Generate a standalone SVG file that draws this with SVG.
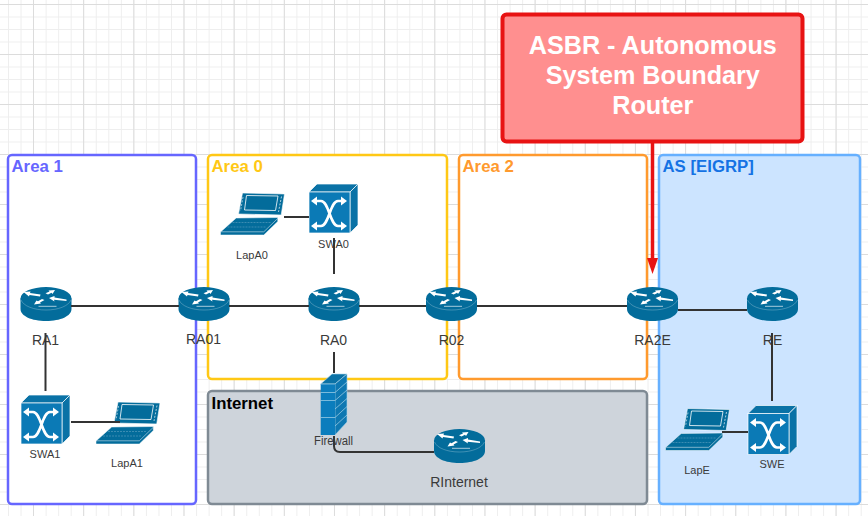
<svg xmlns="http://www.w3.org/2000/svg" width="868" height="516" viewBox="0 0 868 516">
  <style>
    text { font-family: "Liberation Sans", Arial, sans-serif; }
    .area { stroke-width: 2.5; }
    .area-title { font-size: 16.8px; font-weight: bold; }
    .big { font-size: 14px; fill: #3a3a3a; text-anchor: middle; }
    .small { font-size: 11px; fill: #3a3a3a; text-anchor: middle; }
    .wire { fill: none; stroke: #333; stroke-width: 2; }
    .b { fill: #036c9b; }
    .w { fill: #fff; }
  </style>
  <defs>
    <pattern id="minor" width="12.54" height="12.5" patternUnits="userSpaceOnUse" patternTransform="translate(8 4)">
      <path d="M.5 0V12.5M0 .5H12.54" fill="none" stroke="#eeeeee" stroke-width="1"/>
    </pattern>
    <pattern id="major" width="50.16" height="50" patternUnits="userSpaceOnUse" patternTransform="translate(33 4)">
      <path d="M.5 0V50M0 .5H50.16" fill="none" stroke="#dcdcdc" stroke-width="1"/>
    </pattern>
    <symbol id="router" viewBox="0 0 51 34" width="51" height="34" overflow="visible">
      <path class="b" d="M0 11.500V22C0 29 11 34 25.500 34S51 29 51 22V11.500Z"/>
      <ellipse class="b" cx="25.500" cy="11.500" rx="25.500" ry="11.500"/>
      <path d="M0.500 13C3 19 13 23 25.500 23S48 19 50.500 13" fill="none" stroke="#7fb4cd" stroke-width=".5"/>
      <path d="M18 19.300H36" stroke="#cfe3ec" stroke-width=".8"/>
      <polygon class="w" points="3,5 10,4.500 9.500,6 20,7.500 19.500,9.500 9,8 8.500,9.500"/>
      <polygon class="w" points="34.500,3 32,7 31,5.800 27.500,7.500 25,6.200 29,4.500 28,3.400"/>
      <polygon class="w" points="28.500,11 34,9 34,10.500 46,12.500 46,14 33.500,12.800 34,14.500"/>
      <polygon class="w" points="13.500,17.500 16,13.500 17.500,14.200 21.500,12 24,13 19.500,15.500 20.500,16.500"/>
    </symbol>
    <symbol id="switch" viewBox="0 0 49 49" width="49" height="49" overflow="visible">
      <polygon points="0,8 8,0 49,0 41,8" fill="#0a72a6" stroke="#fff" stroke-width=".7"/>
      <polygon points="41,8 49,0 49,41 41,49" fill="#0a72a6" stroke="#fff" stroke-width=".7"/>
      <rect x="0" y="8" width="41" height="41" fill="#0b7ab6" stroke="#fff" stroke-width=".7"/>
      <path d="M7 17H12C20 17 21 42 29 42H33M7 42H12C20 42 21 17 29 17H33" fill="none" stroke="#fff" stroke-width="2.600"/>
      <polygon class="w" points="2,17 8,12.500 8,21.500"/>
      <polygon class="w" points="2,42 8,37.500 8,46.500"/>
      <polygon class="w" points="38,17 32,12.500 32,21.500"/>
      <polygon class="w" points="38,42 32,37.500 32,46.500"/>
    </symbol>
    <symbol id="laptop" viewBox="0 0 64 43" width="64" height="43" overflow="visible">
      <polygon class="b" points="22,0 64,1 60.700,22 18,21" stroke="#fff" stroke-width=".6"/>
      <polygon points="26,2.500 57.500,3 55,17.500 24,17" fill="none" stroke="#fff" stroke-width=".8"/>
      <path d="M61 3.500L58 19" fill="none" stroke="#d5e8f1" stroke-width=".8" stroke-dasharray="2 1.500"/>
      <path d="M22.500 4L20 18" fill="none" stroke="#d5e8f1" stroke-width=".7" stroke-dasharray="2 1.500"/>
      <polygon class="b" points="0,39 15.700,25 57.300,24.500 57.300,28.500 43.300,42 0,42" stroke="#fff" stroke-width=".5"/>
      <path d="M0 38.800H43.300L57.300 25.300" fill="none" stroke="#cfe3ec" stroke-width=".6"/>
      <path d="M12 29.500H50M7 34H46" fill="none" stroke="#5fa3c3" stroke-width=".6" stroke-dasharray="2 1"/>
    </symbol>
    <symbol id="firewall" viewBox="0 0 27 62" width="27" height="62" overflow="visible">
      <polygon points="0.700,11 12,1 27,1 15,11" fill="#0a72a6" stroke="#a9d4ea" stroke-width=".6"/>
      <polygon points="15,11 27,1 27,49 15,62" fill="#0e78b2" stroke="#a9d4ea" stroke-width=".6"/>
      <rect x="0.700" y="11" width="14.300" height="51" fill="#0b7dbd"/>
      <path d="M0.700 11H15M0.700 19.500H15M0.700 27.500H15M0.700 44.500H15M15 19.500L27 9M15 27.500L27 17M15 36L27 25.500M15 44.500L27 33.500M15 53L27 42" fill="none" stroke="#a9d4ea" stroke-width=".7"/>
    </symbol>
  </defs>

  <rect width="868" height="516" fill="#fff"/>
  <rect width="868" height="516" fill="url(#minor)"/>
  <rect width="868" height="516" fill="url(#major)"/>

  <g id="areas">
    <g id="area-1">
      <rect class="area" x="8" y="155" width="188" height="349" rx="4" fill="#fff" stroke="#6666ff"/>
      <text class="area-title" x="11.500" y="172" fill="#6666ff">Area 1</text>
    </g>
    <g id="area-0">
      <rect class="area" x="208" y="155" width="239" height="224" rx="4" fill="#fff" stroke="#ffc815"/>
      <text class="area-title" x="211.500" y="172" fill="#ffc815">Area 0</text>
    </g>
    <g id="area-2">
      <rect class="area" x="459" y="155" width="188" height="224" rx="4" fill="#fff" stroke="#ff9a2e"/>
      <text class="area-title" x="462.500" y="172" fill="#ff9a2e">Area 2</text>
    </g>
    <g id="area-as">
      <rect class="area" x="659" y="155" width="201" height="349" rx="4" fill="#cce4ff" stroke="#66b0ff"/>
      <text class="area-title" x="662.500" y="172" fill="#1472e4">AS [EIGRP]</text>
    </g>
    <g id="area-internet">
      <rect class="area" x="208" y="391" width="439" height="113" rx="4" fill="#ced4db" stroke="#7f8a94"/>
      <text class="area-title" x="211.500" y="409" fill="#000">Internet</text>
    </g>
  </g>

  <g id="node-RA1"><use href="#router" x="20.500" y="287"/><text class="big" x="45.500" y="345">RA1</text></g>
  <g id="node-RA01"><use href="#router" x="178.500" y="287"/><text class="big" x="203.500" y="344">RA01</text></g>
  <g id="node-RA0"><use href="#router" x="308.500" y="287"/><text class="big" x="333.500" y="345">RA0</text></g>
  <g id="node-R02"><use href="#router" x="426" y="287"/><text class="big" x="451.500" y="345">R02</text></g>
  <g id="node-RA2E"><use href="#router" x="627" y="287"/><text class="big" x="652.500" y="345">RA2E</text></g>
  <g id="node-RE"><use href="#router" x="747" y="287"/><text class="big" x="772.500" y="345">RE</text></g>
  <g id="node-RInternet"><use href="#router" x="434" y="429"/><text class="big" x="459" y="487">RInternet</text></g>
  <g id="node-SWA1"><use href="#switch" x="21" y="395"/><text class="small" x="45" y="458">SWA1</text></g>
  <g id="node-SWA0"><use href="#switch" x="309" y="184"/><text class="small" x="333.500" y="248">SWA0</text></g>
  <g id="node-SWE"><use href="#switch" x="748" y="405.500"/><text class="small" x="772" y="468">SWE</text></g>
  <g id="node-LapA1"><use href="#laptop" x="96" y="402"/><text class="small" x="127" y="467">LapA1</text></g>
  <g id="node-LapA0"><use href="#laptop" x="220.500" y="193"/><text class="small" x="252" y="259">LapA0</text></g>
  <g id="node-LapE"><use href="#laptop" x="665.500" y="408.500"/><text class="small" x="697" y="474">LapE</text></g>
  <g id="node-Firewall"><use href="#firewall" x="320" y="373"/></g>

  <g id="connectors">
    <path class="wire" d="M71 306H179"/>
    <path class="wire" d="M229 306H309"/>
    <path class="wire" d="M359 306H426"/>
    <path class="wire" d="M477 306H627"/>
    <path class="wire" d="M678 310H747"/>
    <path class="wire" d="M45.500 333V391"/>
    <path class="wire" d="M71 422H120"/>
    <path class="wire" d="M284 217H309"/>
    <path class="wire" d="M334 238V274"/>
    <path class="wire" d="M334 352V373"/>
    <path class="wire" d="M334 436V446Q334 452 340 452H434"/>
    <path class="wire" d="M772 333V401"/>
    <path class="wire" d="M722 432H748"/>
    <path d="M652.500 142V260" fill="none" stroke="#e81313" stroke-width="3.500"/>
    <path d="M647 258H658L652.500 274Z" fill="#e81313"/>
  </g>

  <text x="333.500" y="445" font-size="12" fill="#3a3a3a" text-anchor="middle" textLength="39" lengthAdjust="spacingAndGlyphs">Firewall</text>

  <g id="callout-asbr">
    <rect x="502.500" y="14.500" width="300" height="127" rx="4" fill="#ff8f8f" stroke="#e81313" stroke-width="4"/>
    <g font-size="25.200" font-weight="bold" fill="#fff" text-anchor="middle">
      <text x="652.800" y="53.500">ASBR - Autonomous</text>
      <text x="652.800" y="84">System Boundary</text>
      <text x="652.800" y="114">Router</text>
    </g>
  </g>
</svg>
